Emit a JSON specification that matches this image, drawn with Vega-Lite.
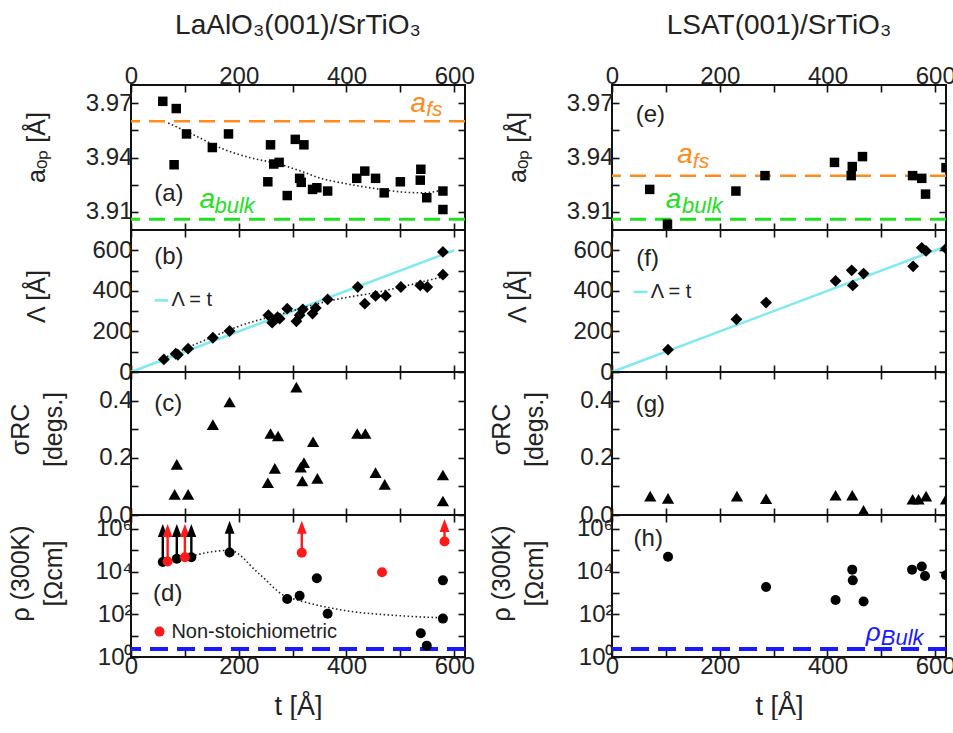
{
 "$schema": "https://vega.github.io/schema/vega-lite/v6.json",
 "background": "white",
 "padding": {"left": 7, "top": 12, "right": 0, "bottom": 0},
 "config": {
  "view": {"stroke": "#111", "strokeWidth": 2},
  "axis": {"grid": false, "domain": false, "tickSize": -7, "tickWidth": 1.6, "tickColor": "#111", "labelFont": "Liberation Sans", "labelFontSize": 24, "labelColor": "#222", "titleFont": "Liberation Sans", "titleFontSize": 25, "titleFontWeight": "normal", "titleColor": "#222", "titleLineHeight": 33, "labelPadding": 4, "labelOverlap": false, "labelFlush": false},
  "axisLeft": {"labelPadding": 6},
  "text": {"font": "Liberation Sans", "color": "#222"},
  "title": {"font": "Liberation Sans", "fontWeight": "normal", "color": "#222"}
 },
 "spacing": 12,
 "hconcat": [
  {
   "title": {"text": "LaAlO₃(001)/SrTiO₃", "fontSize": 28, "anchor": "middle", "frame": "group", "offset": 23, "dx": 167},
   "spacing": 0,
   "bounds": "flush",
   "vconcat": [
    {
     "width": 334, "height": 145,
     "resolve": {"axis": {"x": "independent", "y": "independent"}},
     "layer": [
      {"data": {"values": [{"ref": "fs", "a": 3.96}]}, "mark": {"type": "rule", "color": "#ff8c1a", "strokeWidth": 2.5, "strokeDash": [16, 9]}, "encoding": {"y": {"field": "a", "type": "quantitative", "axis": null}}},
      {"data": {"values": [{"ref": "bulk", "a": 3.906}]}, "mark": {"type": "rule", "color": "#22e022", "strokeWidth": 3, "strokeDash": [16, 9]}, "encoding": {"y": {"field": "a", "type": "quantitative", "axis": null}}},
      {"data": {"values": [{"t":69,"a":3.959},{"t":120,"a":3.952},{"t":168,"a":3.945},{"t":220,"a":3.94},{"t":273,"a":3.9365},{"t":320,"a":3.932},{"t":347,"a":3.929},{"t":400,"a":3.9255},{"t":450,"a":3.923},{"t":502,"a":3.921},{"t":540,"a":3.9205},{"t":580,"a":3.922}]},
       "mark": {"type": "line", "color": "#222", "strokeWidth": 1.6, "strokeDash": [1.5, 2.5], "interpolate": "monotone"},
       "encoding": {"x": {"field": "t", "type": "quantitative", "axis": null}, "y": {"field": "a", "type": "quantitative", "axis": null}}},
      {"data": {"values": [{"t":59,"a":3.971},{"t":84,"a":3.967},{"t":80,"a":3.936},{"t":103,"a":3.953},{"t":151,"a":3.9455},{"t":181,"a":3.953},{"t":259,"a":3.947},{"t":254,"a":3.9266},{"t":265,"a":3.9364},{"t":275,"a":3.9373},{"t":290,"a":3.919},{"t":305,"a":3.95},{"t":321,"a":3.947},{"t":313,"a":3.9285},{"t":316,"a":3.9263},{"t":337,"a":3.9224},{"t":345,"a":3.9233},{"t":365,"a":3.9215},{"t":419,"a":3.9285},{"t":434,"a":3.9325},{"t":454,"a":3.9285},{"t":470,"a":3.9205},{"t":500,"a":3.9266},{"t":538,"a":3.9335},{"t":537,"a":3.9275},{"t":549,"a":3.9178},{"t":579,"a":3.9215},{"t":579,"a":3.9113}]},
       "mark": {"type": "point", "shape": "square", "filled": true, "color": "#000", "opacity": 1, "size": 90},
       "encoding": {
        "x": {"field": "t", "type": "quantitative", "scale": {"domain": [0, 620], "nice": false, "zero": false}, "axis": {"orient": "bottom", "values": [0,100,200,300,400,500,600], "labels": false, "title": null}},
        "y": {"field": "a", "type": "quantitative", "scale": {"domain": [3.9, 3.98], "nice": false, "zero": false}, "axis": {"orient": "left", "values": [3.91,3.925,3.94,3.955,3.97], "labelExpr": "datum.value == 3.91 || datum.value == 3.94 || datum.value == 3.97 ? format(datum.value, '.2f') : ''", "title": "aₒₚ [Å]", "titleX": -82, "titleY": 62}}
       }},
      {"data": {"values": [{}]}, "mark": {"type": "text", "text": "(a)", "align": "left", "baseline": "middle", "fontSize": 24}, "encoding": {"x": {"datum": 43, "type": "quantitative", "axis": null}, "y": {"datum": 3.92, "type": "quantitative", "axis": null}}},
      {"data": {"values": [{}]}, "mark": {"type": "text", "text": "a", "align": "left", "baseline": "middle", "fontSize": 28, "fontStyle": "italic", "color": "#ff8c1a"}, "encoding": {"x": {"datum": 519, "type": "quantitative", "axis": null}, "y": {"datum": 3.9695, "type": "quantitative", "axis": null}}},
      {"data": {"values": [{}]}, "mark": {"type": "text", "text": "fs", "align": "left", "baseline": "middle", "fontSize": 21, "fontStyle": "italic", "color": "#ff8c1a"}, "encoding": {"x": {"datum": 548, "type": "quantitative", "axis": null}, "y": {"datum": 3.966, "type": "quantitative", "axis": null}}},
      {"data": {"values": [{}]}, "mark": {"type": "text", "text": "a", "align": "left", "baseline": "middle", "fontSize": 28, "fontStyle": "italic", "color": "#22e022"}, "encoding": {"x": {"datum": 127, "type": "quantitative", "axis": null}, "y": {"datum": 3.9165, "type": "quantitative", "axis": null}}},
      {"data": {"values": [{}]}, "mark": {"type": "text", "text": "bulk", "align": "left", "baseline": "middle", "fontSize": 22, "fontStyle": "italic", "color": "#22e022"}, "encoding": {"x": {"datum": 155, "type": "quantitative", "axis": null}, "y": {"datum": 3.9135, "type": "quantitative", "axis": null}}},
      {"data": {"values": [{}]}, "mark": {"type": "point", "opacity": 0}, "encoding": {
        "x": {"datum": 300, "type": "quantitative", "axis": {"orient": "top", "values": [0,100,200,300,400,500,600], "labelExpr": "datum.value % 200 == 0 ? datum.label : ''", "title": null}},
        "y": {"datum": 3.94, "type": "quantitative", "axis": {"orient": "right", "values": [3.91,3.925,3.94,3.955,3.97], "labels": false, "title": null}}}}
     ]
    },
    {
     "width": 334, "height": 142,
     "resolve": {"axis": {"x": "independent", "y": "independent"}},
     "layer": [
      {"data": {"values": [{"t": 0, "L": 0}, {"t": 600, "L": 600}]}, "mark": {"type": "line", "color": "#7fe9f0", "strokeWidth": 2.5}, "encoding": {"x": {"field": "t", "type": "quantitative", "axis": null}, "y": {"field": "L", "type": "quantitative", "axis": null}}},
      {"data": {"values": [{"t":60,"L":68},{"t":87,"L":99},{"t":140,"L":160},{"t":205,"L":230},{"t":280,"L":287},{"t":372,"L":353},{"t":460,"L":395},{"t":576,"L":468}]},
       "mark": {"type": "line", "color": "#222", "strokeWidth": 1.6, "strokeDash": [1.5, 2.5], "interpolate": "monotone"},
       "encoding": {"x": {"field": "t", "type": "quantitative", "axis": null}, "y": {"field": "L", "type": "quantitative", "axis": null}}},
      {"data": {"values": [{"t":61,"L":62},{"t":83,"L":90},{"t":87,"L":85},{"t":106,"L":115},{"t":152,"L":169},{"t":183,"L":202},{"t":255,"L":280},{"t":262,"L":243},{"t":272,"L":270},{"t":276,"L":263},{"t":290,"L":312},{"t":307,"L":250},{"t":313,"L":280},{"t":319,"L":309},{"t":337,"L":288},{"t":343,"L":316},{"t":365,"L":358},{"t":421,"L":419},{"t":434,"L":337},{"t":454,"L":375},{"t":473,"L":375},{"t":501,"L":419},{"t":537,"L":427},{"t":550,"L":419},{"t":579,"L":592},{"t":579,"L":480}]},
       "mark": {"type": "point", "shape": "diamond", "filled": true, "color": "#000", "opacity": 1, "size": 140},
       "encoding": {
        "x": {"field": "t", "type": "quantitative", "scale": {"domain": [0, 620], "nice": false, "zero": false}, "axis": {"orient": "bottom", "values": [0,100,200,300,400,500,600], "labels": false, "title": null}},
        "y": {"field": "L", "type": "quantitative", "scale": {"domain": [0, 700], "nice": false, "zero": false}, "axis": {"orient": "left", "values": [0,100,200,300,400,500,600], "labelExpr": "datum.value % 200 == 0 ? datum.label : ''", "title": "Λ [Å]", "titleX": -82, "titleY": 66}}
       }},
      {"data": {"values": [{}]}, "mark": {"type": "rule", "color": "#7fe9f0", "strokeWidth": 2.5}, "encoding": {"x": {"datum": 44, "type": "quantitative", "axis": null}, "x2": {"datum": 69}, "y": {"datum": 353, "type": "quantitative", "axis": null}}},
      {"data": {"values": [{}]}, "mark": {"type": "text", "text": "Λ = t", "align": "left", "baseline": "middle", "fontSize": 20}, "encoding": {"x": {"datum": 75, "type": "quantitative", "axis": null}, "y": {"datum": 353, "type": "quantitative", "axis": null}}},
      {"data": {"values": [{}]}, "mark": {"type": "text", "text": "(b)", "align": "left", "baseline": "middle", "fontSize": 24}, "encoding": {"x": {"datum": 43, "type": "quantitative", "axis": null}, "y": {"datum": 567, "type": "quantitative", "axis": null}}},
      {"data": {"values": [{}]}, "mark": {"type": "point", "opacity": 0}, "encoding": {
        "x": {"datum": 300, "type": "quantitative", "axis": {"orient": "top", "values": [0,100,200,300,400,500,600], "labels": false, "title": null}},
        "y": {"datum": 300, "type": "quantitative", "axis": {"orient": "right", "values": [0,100,200,300,400,500,600], "labels": false, "title": null}}}}
     ]
    },
    {
     "width": 334, "height": 143,
     "resolve": {"axis": {"x": "independent", "y": "independent"}},
     "layer": [
      {"data": {"values": [{"t":81,"s":0.072},{"t":106,"s":0.072},{"t":85,"s":0.177},{"t":152,"s":0.316},{"t":183,"s":0.395},{"t":254,"s":0.113},{"t":259,"s":0.285},{"t":273,"s":0.276},{"t":267,"s":0.163},{"t":307,"s":0.447},{"t":315,"s":0.167},{"t":321,"s":0.183},{"t":318,"s":0.119},{"t":338,"s":0.256},{"t":346,"s":0.128},{"t":420,"s":0.285},{"t":435,"s":0.285},{"t":454,"s":0.148},{"t":471,"s":0.107},{"t":579,"s":0.14},{"t":579,"s":0.049}]},
       "mark": {"type": "point", "shape": "triangle-up", "filled": true, "color": "#000", "opacity": 1, "size": 150},
       "encoding": {
        "x": {"field": "t", "type": "quantitative", "scale": {"domain": [0, 620], "nice": false, "zero": false}, "axis": {"orient": "bottom", "values": [0,100,200,300,400,500,600], "labels": false, "title": null}},
        "y": {"field": "s", "type": "quantitative", "scale": {"domain": [0, 0.5], "nice": false, "zero": false}, "axis": {"orient": "left", "values": [0,0.1,0.2,0.3,0.4], "labelExpr": "datum.value == 0 || datum.value == 0.2 || datum.value == 0.4 ? format(datum.value, '.1f') : ''", "title": ["σRC", "[degs.]"], "titleX": -98, "titleY": 57}}
       }},
      {"data": {"values": [{}]}, "mark": {"type": "text", "text": "(c)", "align": "left", "baseline": "middle", "fontSize": 24}, "encoding": {"x": {"datum": 43, "type": "quantitative", "axis": null}, "y": {"datum": 0.388, "type": "quantitative", "axis": null}}},
      {"data": {"values": [{}]}, "mark": {"type": "point", "opacity": 0}, "encoding": {
        "x": {"datum": 300, "type": "quantitative", "axis": {"orient": "top", "values": [0,100,200,300,400,500,600], "labels": false, "title": null}},
        "y": {"datum": 0.25, "type": "quantitative", "axis": {"orient": "right", "values": [0,0.1,0.2,0.3,0.4], "labels": false, "title": null}}}}
     ]
    },
    {
     "width": 334, "height": 142,
     "resolve": {"axis": {"x": "independent", "y": "independent"}},
     "layer": [
      {"data": {"values": [{"ref": "bulk", "rho": 2.4}]}, "mark": {"type": "rule", "color": "#1a1aff", "strokeWidth": 4, "strokeDash": [18, 9]}, "encoding": {"y": {"field": "rho", "type": "quantitative", "axis": null}}},
      {"data": {"values": [{"t":112,"rho":54000},{"t":150,"rho":85000},{"t":183,"rho":100000},{"t":236,"rho":8700},{"t":285,"rho":740},{"t":313,"rho":440},{"t":397,"rho":150},{"t":490,"rho":89},{"t":580,"rho":68}]},
       "mark": {"type": "line", "color": "#222", "strokeWidth": 1.6, "strokeDash": [1.5, 2.5], "interpolate": "monotone"},
       "encoding": {"x": {"field": "t", "type": "quantitative", "axis": null}, "y": {"field": "rho", "type": "quantitative", "axis": null}}},
      {"data": {"values": [{"t":59,"lo":28000,"hi":850000,"kind":"s"},{"t":68,"lo":30000,"hi":850000,"kind":"n"},{"t":85,"lo":40000,"hi":850000,"kind":"s"},{"t":100,"lo":47000,"hi":850000,"kind":"n"},{"t":112,"lo":47000,"hi":850000,"kind":"s"},{"t":183,"lo":79000,"hi":1200000,"kind":"s"},{"t":317,"lo":77000,"hi":1200000,"kind":"n"},{"t":582,"lo":260000,"hi":1450000,"kind":"n"}]},
       "layer": [
        {"mark": {"type": "rule", "strokeWidth": 2.4}, "encoding": {"x": {"field": "t", "type": "quantitative", "axis": null}, "y": {"field": "lo", "type": "quantitative", "axis": null}, "y2": {"field": "hi"}, "color": {"field": "kind", "type": "nominal", "scale": {"domain": ["s", "n"], "range": ["#000000", "#ff1a1a"]}, "legend": null}}},
        {"mark": {"type": "point", "shape": "M0,-1L-0.75,1L0.75,1Z", "filled": true, "opacity": 1, "size": 170}, "encoding": {"x": {"field": "t", "type": "quantitative", "axis": null}, "y": {"field": "hi", "type": "quantitative", "axis": null}, "color": {"field": "kind", "type": "nominal", "scale": {"domain": ["s", "n"], "range": ["#000000", "#ff1a1a"]}, "legend": null}}}
       ]},
      {"data": {"values": [{"t":59,"rho":28000,"kind":"s"},{"t":85,"rho":40000,"kind":"s"},{"t":112,"rho":47000,"kind":"s"},{"t":183,"rho":79000,"kind":"s"},{"t":290,"rho":520,"kind":"s"},{"t":313,"rho":740,"kind":"s"},{"t":345,"rho":4900,"kind":"s"},{"t":365,"rho":107,"kind":"s"},{"t":538,"rho":13,"kind":"s"},{"t":549,"rho":3.4,"kind":"s"},{"t":579,"rho":3900,"kind":"s"},{"t":579,"rho":63,"kind":"s"},{"t":68,"rho":30000,"kind":"n"},{"t":100,"rho":47000,"kind":"n"},{"t":317,"rho":77000,"kind":"n"},{"t":466,"rho":9300,"kind":"n"},{"t":582,"rho":260000,"kind":"n"}]},
       "mark": {"type": "point", "shape": "circle", "filled": true, "opacity": 1, "size": 100},
       "encoding": {
        "x": {"field": "t", "type": "quantitative", "scale": {"domain": [0, 620], "nice": false, "zero": false}, "axis": {"orient": "bottom", "values": [0,100,200,300,400,500,600], "labelExpr": "datum.value % 200 == 0 ? datum.label : ''", "title": "t [Å]", "titleFontSize": 27, "titlePadding": 15}},
        "y": {"field": "rho", "type": "quantitative", "scale": {"type": "log", "domain": [1, 4500000], "nice": false}, "axis": {"orient": "left", "values": [1,10,100,1000,10000,100000,1000000], "labelExpr": "datum.value == 1 ? '10⁰' : datum.value == 100 ? '10²' : datum.value == 10000 ? '10⁴' : datum.value == 1000000 ? '10⁶' : ''", "title": ["ρ (300K)", "[Ωcm]"], "titleX": -98, "titleY": 58}},
        "color": {"field": "kind", "type": "nominal", "scale": {"domain": ["s", "n"], "range": ["#000000", "#ff1a1a"]}, "legend": null}
       }},
      {"data": {"values": [{}]}, "mark": {"type": "point", "shape": "circle", "filled": true, "opacity": 1, "size": 100, "color": "#ff1a1a"}, "encoding": {"x": {"datum": 53, "type": "quantitative", "axis": null}, "y": {"datum": 15.5, "type": "quantitative", "axis": null}}},
      {"data": {"values": [{}]}, "mark": {"type": "text", "text": "Non-stoichiometric", "align": "left", "baseline": "middle", "fontSize": 20}, "encoding": {"x": {"datum": 75, "type": "quantitative", "axis": null}, "y": {"datum": 15.5, "type": "quantitative", "axis": null}}},
      {"data": {"values": [{}]}, "mark": {"type": "text", "text": "(d)", "align": "left", "baseline": "middle", "fontSize": 24}, "encoding": {"x": {"datum": 41, "type": "quantitative", "axis": null}, "y": {"datum": 900, "type": "quantitative", "axis": null}}},
      {"data": {"values": [{}]}, "mark": {"type": "point", "opacity": 0}, "encoding": {
        "x": {"datum": 300, "type": "quantitative", "axis": {"orient": "top", "values": [0,100,200,300,400,500,600], "labels": false, "title": null}},
        "y": {"datum": 1000, "type": "quantitative", "axis": {"orient": "right", "values": [1,10,100,1000,10000,100000,1000000], "labels": false, "title": null}}}}
     ]
    }
   ]
  },
  {
   "title": {"text": "LSAT(001)/SrTiO₃", "fontSize": 28, "anchor": "middle", "frame": "group", "offset": 23, "dx": 167},
   "spacing": 0,
   "bounds": "flush",
   "vconcat": [
    {
     "width": 334, "height": 145,
     "resolve": {"axis": {"x": "independent", "y": "independent"}},
     "layer": [
      {"data": {"values": [{"ref": "fs", "a": 3.93}]}, "mark": {"type": "rule", "color": "#ff8c1a", "strokeWidth": 2.5, "strokeDash": [16, 9]}, "encoding": {"y": {"field": "a", "type": "quantitative", "axis": null}}},
      {"data": {"values": [{"ref": "bulk", "a": 3.906}]}, "mark": {"type": "rule", "color": "#22e022", "strokeWidth": 3, "strokeDash": [16, 9]}, "encoding": {"y": {"field": "a", "type": "quantitative", "axis": null}}},
      {"data": {"values": [{"t":70,"a":3.9224},{"t":103,"a":3.9032},{"t":230,"a":3.9215},{"t":284,"a":3.93},{"t":413,"a":3.9373},{"t":446,"a":3.935},{"t":444,"a":3.93},{"t":465,"a":3.9405},{"t":558,"a":3.93},{"t":575,"a":3.9285},{"t":582,"a":3.9198}]},
       "mark": {"type": "point", "shape": "square", "filled": true, "color": "#000", "opacity": 1, "size": 90},
       "encoding": {
        "x": {"field": "t", "type": "quantitative", "scale": {"domain": [0, 620], "nice": false, "zero": false}, "axis": {"orient": "bottom", "values": [0,100,200,300,400,500,600], "labels": false, "title": null}},
        "y": {"field": "a", "type": "quantitative", "scale": {"domain": [3.9, 3.98], "nice": false, "zero": false}, "axis": {"orient": "left", "values": [3.91,3.925,3.94,3.955,3.97], "labelExpr": "datum.value == 3.91 || datum.value == 3.94 || datum.value == 3.97 ? format(datum.value, '.2f') : ''", "title": "aₒₚ [Å]", "titleX": -82, "titleY": 62}}
       }},
      {"data": {"values": [{"t":620,"a":3.9344}]}, "mark": {"type": "point", "shape": "square", "filled": true, "color": "#000", "opacity": 1, "size": 90, "clip": true}, "encoding": {"x": {"field": "t", "type": "quantitative", "axis": null}, "y": {"field": "a", "type": "quantitative", "axis": null}}},
      {"data": {"values": [{}]}, "mark": {"type": "text", "text": "(e)", "align": "left", "baseline": "middle", "fontSize": 24}, "encoding": {"x": {"datum": 44, "type": "quantitative", "axis": null}, "y": {"datum": 3.9635, "type": "quantitative", "axis": null}}},
      {"data": {"values": [{}]}, "mark": {"type": "text", "text": "a", "align": "left", "baseline": "middle", "fontSize": 28, "fontStyle": "italic", "color": "#ff8c1a"}, "encoding": {"x": {"datum": 121, "type": "quantitative", "axis": null}, "y": {"datum": 3.9412, "type": "quantitative", "axis": null}}},
      {"data": {"values": [{}]}, "mark": {"type": "text", "text": "fs", "align": "left", "baseline": "middle", "fontSize": 21, "fontStyle": "italic", "color": "#ff8c1a"}, "encoding": {"x": {"datum": 150, "type": "quantitative", "axis": null}, "y": {"datum": 3.9377, "type": "quantitative", "axis": null}}},
      {"data": {"values": [{}]}, "mark": {"type": "text", "text": "a", "align": "left", "baseline": "middle", "fontSize": 28, "fontStyle": "italic", "color": "#22e022"}, "encoding": {"x": {"datum": 100, "type": "quantitative", "axis": null}, "y": {"datum": 3.9165, "type": "quantitative", "axis": null}}},
      {"data": {"values": [{}]}, "mark": {"type": "text", "text": "bulk", "align": "left", "baseline": "middle", "fontSize": 22, "fontStyle": "italic", "color": "#22e022"}, "encoding": {"x": {"datum": 130, "type": "quantitative", "axis": null}, "y": {"datum": 3.9135, "type": "quantitative", "axis": null}}},
      {"data": {"values": [{}]}, "mark": {"type": "point", "opacity": 0}, "encoding": {
        "x": {"datum": 300, "type": "quantitative", "axis": {"orient": "top", "values": [0,100,200,300,400,500,600], "labelExpr": "datum.value % 200 == 0 ? datum.label : ''", "title": null}},
        "y": {"datum": 3.94, "type": "quantitative", "axis": {"orient": "right", "values": [3.91,3.925,3.94,3.955,3.97], "labels": false, "title": null}}}}
     ]
    },
    {
     "width": 334, "height": 142,
     "resolve": {"axis": {"x": "independent", "y": "independent"}},
     "layer": [
      {"data": {"values": [{"t": 0, "L": 0}, {"t": 620, "L": 620}]}, "mark": {"type": "line", "color": "#7fe9f0", "strokeWidth": 2.5}, "encoding": {"x": {"field": "t", "type": "quantitative", "axis": null}, "y": {"field": "L", "type": "quantitative", "axis": null}}},
      {"data": {"values": [{"t":104,"L":110},{"t":231,"L":260},{"t":286,"L":342},{"t":415,"L":449},{"t":445,"L":501},{"t":447,"L":427},{"t":467,"L":485},{"t":559,"L":521},{"t":575,"L":612},{"t":583,"L":597}]},
       "mark": {"type": "point", "shape": "diamond", "filled": true, "color": "#000", "opacity": 1, "size": 140},
       "encoding": {
        "x": {"field": "t", "type": "quantitative", "scale": {"domain": [0, 620], "nice": false, "zero": false}, "axis": {"orient": "bottom", "values": [0,100,200,300,400,500,600], "labels": false, "title": null}},
        "y": {"field": "L", "type": "quantitative", "scale": {"domain": [0, 700], "nice": false, "zero": false}, "axis": {"orient": "left", "values": [0,100,200,300,400,500,600], "labelExpr": "datum.value % 200 == 0 ? datum.label : ''", "title": "Λ [Å]", "titleX": -82, "titleY": 66}}
       }},
      {"data": {"values": [{"t":620,"L":608}]}, "mark": {"type": "point", "shape": "diamond", "filled": true, "color": "#000", "opacity": 1, "size": 140, "clip": true}, "encoding": {"x": {"field": "t", "type": "quantitative", "axis": null}, "y": {"field": "L", "type": "quantitative", "axis": null}}},
      {"data": {"values": [{}]}, "mark": {"type": "rule", "color": "#7fe9f0", "strokeWidth": 2.5}, "encoding": {"x": {"datum": 40, "type": "quantitative", "axis": null}, "x2": {"datum": 66}, "y": {"datum": 395, "type": "quantitative", "axis": null}}},
      {"data": {"values": [{}]}, "mark": {"type": "text", "text": "Λ = t", "align": "left", "baseline": "middle", "fontSize": 20}, "encoding": {"x": {"datum": 72, "type": "quantitative", "axis": null}, "y": {"datum": 395, "type": "quantitative", "axis": null}}},
      {"data": {"values": [{}]}, "mark": {"type": "text", "text": "(f)", "align": "left", "baseline": "middle", "fontSize": 24}, "encoding": {"x": {"datum": 45, "type": "quantitative", "axis": null}, "y": {"datum": 559, "type": "quantitative", "axis": null}}},
      {"data": {"values": [{}]}, "mark": {"type": "point", "opacity": 0}, "encoding": {
        "x": {"datum": 300, "type": "quantitative", "axis": {"orient": "top", "values": [0,100,200,300,400,500,600], "labels": false, "title": null}},
        "y": {"datum": 300, "type": "quantitative", "axis": {"orient": "right", "values": [0,100,200,300,400,500,600], "labels": false, "title": null}}}}
     ]
    },
    {
     "width": 334, "height": 143,
     "resolve": {"axis": {"x": "independent", "y": "independent"}},
     "layer": [
      {"data": {"values": [{"t":71,"s":0.066},{"t":104,"s":0.058},{"t":232,"s":0.066},{"t":286,"s":0.057},{"t":415,"s":0.069},{"t":446,"s":0.069},{"t":467,"s":0.016},{"t":558,"s":0.055},{"t":569,"s":0.055},{"t":583,"s":0.066}]},
       "mark": {"type": "point", "shape": "triangle-up", "filled": true, "color": "#000", "opacity": 1, "size": 150},
       "encoding": {
        "x": {"field": "t", "type": "quantitative", "scale": {"domain": [0, 620], "nice": false, "zero": false}, "axis": {"orient": "bottom", "values": [0,100,200,300,400,500,600], "labels": false, "title": null}},
        "y": {"field": "s", "type": "quantitative", "scale": {"domain": [0, 0.5], "nice": false, "zero": false}, "axis": {"orient": "left", "values": [0,0.1,0.2,0.3,0.4], "labelExpr": "datum.value == 0 || datum.value == 0.2 || datum.value == 0.4 ? format(datum.value, '.1f') : ''", "title": ["σRC", "[degs.]"], "titleX": -98, "titleY": 57}}
       }},
      {"data": {"values": [{"t":620,"s":0.055}]}, "mark": {"type": "point", "shape": "triangle-up", "filled": true, "color": "#000", "opacity": 1, "size": 150, "clip": true}, "encoding": {"x": {"field": "t", "type": "quantitative", "axis": null}, "y": {"field": "s", "type": "quantitative", "axis": null}}},
      {"data": {"values": [{}]}, "mark": {"type": "text", "text": "(g)", "align": "left", "baseline": "middle", "fontSize": 24}, "encoding": {"x": {"datum": 44, "type": "quantitative", "axis": null}, "y": {"datum": 0.384, "type": "quantitative", "axis": null}}},
      {"data": {"values": [{}]}, "mark": {"type": "point", "opacity": 0}, "encoding": {
        "x": {"datum": 300, "type": "quantitative", "axis": {"orient": "top", "values": [0,100,200,300,400,500,600], "labels": false, "title": null}},
        "y": {"datum": 0.25, "type": "quantitative", "axis": {"orient": "right", "values": [0,0.1,0.2,0.3,0.4], "labels": false, "title": null}}}}
     ]
    },
    {
     "width": 334, "height": 142,
     "resolve": {"axis": {"x": "independent", "y": "independent"}},
     "layer": [
      {"data": {"values": [{"ref": "bulk", "rho": 2.4}]}, "mark": {"type": "rule", "color": "#1a1aff", "strokeWidth": 4, "strokeDash": [18, 9]}, "encoding": {"y": {"field": "rho", "type": "quantitative", "axis": null}}},
      {"data": {"values": [{"t":104,"rho":50000},{"t":286,"rho":1900},{"t":415,"rho":470},{"t":446,"rho":12400},{"t":447,"rho":3900},{"t":467,"rho":395},{"t":557,"rho":12400},{"t":575,"rho":17500},{"t":581,"rho":6200}]},
       "mark": {"type": "point", "shape": "circle", "filled": true, "color": "#000", "opacity": 1, "size": 100},
       "encoding": {
        "x": {"field": "t", "type": "quantitative", "scale": {"domain": [0, 620], "nice": false, "zero": false}, "axis": {"orient": "bottom", "values": [0,100,200,300,400,500,600], "labelExpr": "datum.value % 200 == 0 ? datum.label : ''", "title": "t [Å]", "titleFontSize": 27, "titlePadding": 15}},
        "y": {"field": "rho", "type": "quantitative", "scale": {"type": "log", "domain": [1, 4500000], "nice": false}, "axis": {"orient": "left", "values": [1,10,100,1000,10000,100000,1000000], "labelExpr": "datum.value == 1 ? '10⁰' : datum.value == 100 ? '10²' : datum.value == 10000 ? '10⁴' : datum.value == 1000000 ? '10⁶' : ''", "title": ["ρ (300K)", "[Ωcm]"], "titleX": -98, "titleY": 58}}
       }},
      {"data": {"values": [{"t":620,"rho":6800}]}, "mark": {"type": "point", "shape": "circle", "filled": true, "color": "#000", "opacity": 1, "size": 100, "clip": true}, "encoding": {"x": {"field": "t", "type": "quantitative", "axis": null}, "y": {"field": "rho", "type": "quantitative", "axis": null}}},
      {"data": {"values": [{}]}, "mark": {"type": "text", "text": "ρ", "align": "left", "baseline": "middle", "fontSize": 26, "fontStyle": "italic", "color": "#1a1aff"}, "encoding": {"x": {"datum": 471, "type": "quantitative", "axis": null}, "y": {"datum": 13, "type": "quantitative", "axis": null}}},
      {"data": {"values": [{}]}, "mark": {"type": "text", "text": "Bulk", "align": "left", "baseline": "middle", "fontSize": 22, "fontStyle": "italic", "color": "#1a1aff"}, "encoding": {"x": {"datum": 499, "type": "quantitative", "axis": null}, "y": {"datum": 8, "type": "quantitative", "axis": null}}},
      {"data": {"values": [{}]}, "mark": {"type": "text", "text": "(h)", "align": "left", "baseline": "middle", "fontSize": 24}, "encoding": {"x": {"datum": 40, "type": "quantitative", "axis": null}, "y": {"datum": 350000, "type": "quantitative", "axis": null}}},
      {"data": {"values": [{}]}, "mark": {"type": "point", "opacity": 0}, "encoding": {
        "x": {"datum": 300, "type": "quantitative", "axis": {"orient": "top", "values": [0,100,200,300,400,500,600], "labels": false, "title": null}},
        "y": {"datum": 1000, "type": "quantitative", "axis": {"orient": "right", "values": [1,10,100,1000,10000,100000,1000000], "labels": false, "title": null}}}}
     ]
    }
   ]
  }
 ]
}
